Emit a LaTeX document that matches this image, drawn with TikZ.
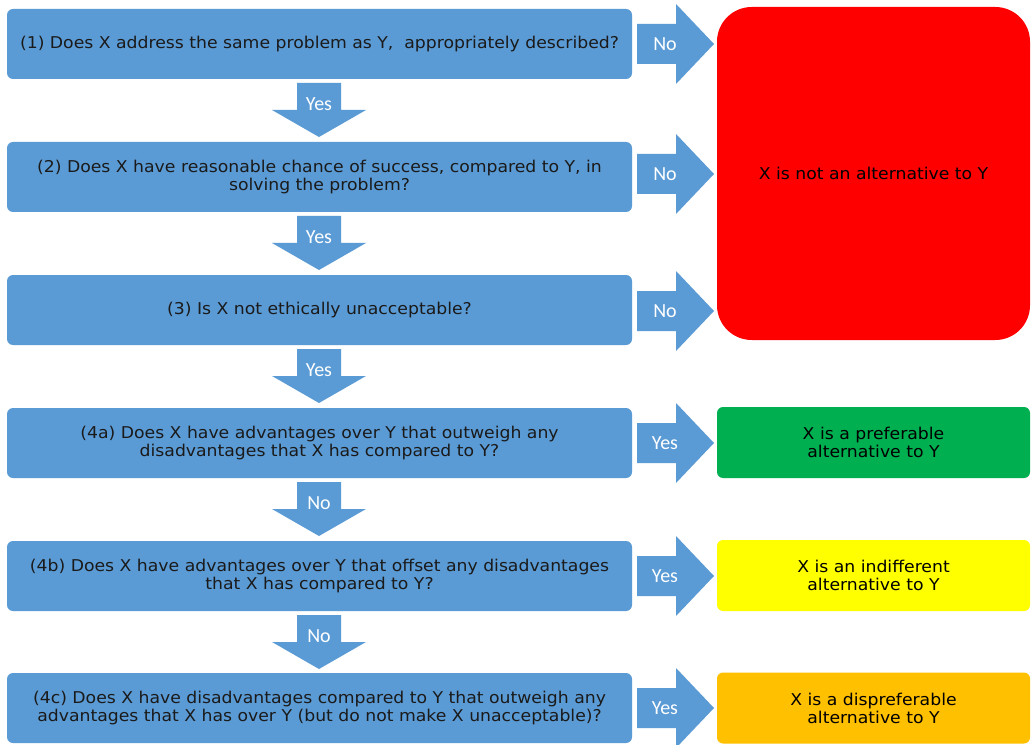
\documentclass[tikz,border=0pt]{standalone}
\usepackage{fontspec}
\setmainfont{DejaVu Sans}[FakeStretch=1.06]
\newfontfamily\arrowfont{Carlito}
\definecolor{boxblue}{HTML}{5B9BD5}
\definecolor{resred}{HTML}{FF0000}
\definecolor{resgreen}{HTML}{00B050}
\definecolor{resyellow}{HTML}{FFFF00}
\definecolor{resorange}{HTML}{FFC000}
\definecolor{txt}{HTML}{1A1A1A}
\newcommand\rarrow[2]{%
  \fill[boxblue] (637,#1-20) -- (676,#1-20) -- (676,#1-40) -- (714,#1) -- (676,#1+40) -- (676,#1+20) -- (637,#1+20) -- cycle;
  \node[albl] at (665,#1) {#2};}
\newcommand\darrow[2]{%
  \fill[boxblue] (297,#1) -- (341,#1) -- (341,#1+27) -- (366,#1+27) -- (319,#1+54) -- (272,#1+27) -- (297,#1+27) -- cycle;
  \node[albl] at (319,#1+21) {#2};}
\tikzset{
  qbox/.style={fill=boxblue, rounded corners=4.5pt, minimum width=468.75pt, minimum height=52.5pt,
    align=center, inner sep=0pt, text=txt, font=\fontsize{12.2}{13.5}\selectfont},
  rbox/.style={rounded corners=4.5pt, minimum width=234.75pt, minimum height=53.25pt,
    align=center, inner sep=0pt, text=black, font=\fontsize{12.2}{13.5}\selectfont},
  albl/.style={text=white, font=\arrowfont\fontsize{15}{16}\selectfont, inner sep=0pt}
}
\begin{document}
\begin{tikzpicture}[x=0.75pt,y=-0.75pt]
\useasboundingbox[fill=white] (0,0) rectangle (1034,745);
\node[qbox] (q1) at (319.5,44) {(1) Does X address the same problem as Y,~ appropriately described?};
\node[qbox] (q2) at (319.5,177) {(2) Does X have reasonable chance of success, compared to Y, in\\ solving the problem?};
\node[qbox] (q3) at (319.5,310) {(3) Is X not ethically unacceptable?};
\node[qbox] (q4a) at (319.5,443) {(4a) Does X have advantages over Y that outweigh any\\ disadvantages that X has compared to Y?};
\node[qbox] (q4b) at (319.5,576) {(4b) Does X have advantages over Y that offset any disadvantages\\ that X has compared to Y?};
\node[qbox] (q4c) at (319.5,708) {(4c) Does X have disadvantages compared to Y that outweigh any\\ advantages that X has over Y (but do not make X unacceptable)?};

\node[rbox, fill=resred, rounded corners=26pt, minimum height=249.75pt] (rnot) at (873.5,173.5) {X is not an alternative to Y};
\node[rbox, fill=resgreen] (rpref) at (873.5,442.5) {X is a preferable\\ alternative to Y};
\node[rbox, fill=resyellow] (rind) at (873.5,575.5) {X is an indifferent\\ alternative to Y};
\node[rbox, fill=resorange] (rdis) at (873.5,708) {X is a dispreferable\\ alternative to Y};

\rarrow{44}{No}
\rarrow{174}{No}
\rarrow{311}{No}
\rarrow{443}{Yes}
\rarrow{576}{Yes}
\rarrow{708}{Yes}

\darrow{83}{Yes}
\darrow{216}{Yes}
\darrow{349}{Yes}
\darrow{482}{No}
\darrow{615}{No}
\end{tikzpicture}
\end{document}
